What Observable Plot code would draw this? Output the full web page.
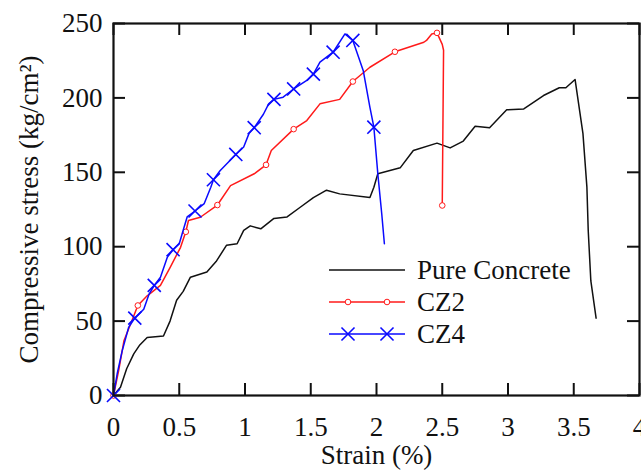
<!DOCTYPE html>
<html><head><meta charset="utf-8">
<script src="https://cdn.jsdelivr.net/npm/d3@7"></script>
<script src="https://cdn.jsdelivr.net/npm/@observablehq/plot@0.6"></script>
<style>
body{margin:0;background:#fff;font-family:"Liberation Serif";}
#wrap{position:relative;width:641px;height:472px;font-family:"Liberation Serif";}
#wrap text{font-family:"Liberation Serif" !important;}
</style>
</head><body><div id="wrap"></div>
<script>
// ---- data ----
const xTicks = [0, 0.5, 1, 1.5, 2, 2.5, 3, 3.5, 4];
const xTickLabels = ["0", "0.5", "1", "1.5", "2", "2.5", "3", "3.5", "4"];
const yTicks = [0, 50, 100, 150, 200, 250];
const yTickLabels = ["0", "50", "100", "150", "200", "250"];
const seriesNames = ["Pure Concrete", "CZ2", "CZ4"];

const pcStrain = [0,0.053,0.10,0.154,0.2,0.256,0.38,0.43,0.48,0.53,0.585,0.71,0.78,0.86,0.94,0.99,1.04,1.12,1.22,1.32,1.42,1.52,1.62,1.72,1.95,1.98,2.01,2.18,2.28,2.46,2.56,2.66,2.75,2.86,2.99,3.12,3.27,3.39,3.44,3.51,3.57,3.60,3.61,3.63,3.67];
const pcStress = [0,5.6,18,28,34,39,40,50,64,70,79.5,83,90,101,102,111,114,112,119,120,126.5,133,138,135.5,133,140,149,153,164.6,169.6,166.4,171,181,180,192,192.6,201.6,206.8,206.8,212.4,176,140,111,77,52];

const cz2Strain = [0,0.04,0.08,0.13,0.185,0.256,0.357,0.43,0.51,0.55,0.57,0.66,0.79,0.89,1.07,1.16,1.2,1.37,1.47,1.57,1.72,1.82,1.95,2.14,2.36,2.38,2.42,2.46,2.50,2.51,2.50];
const cz2Stress = [0,17,37,48,60.5,67,74,86,99.6,110,117.6,119.8,128,141,149,155,164.6,179,184.8,196,199,211,220.6,231,237.4,238.6,243,243.7,236,232,127.7];
const cz2MarkStrain = [0,0.185,0.55,0.79,1.16,1.37,1.82,2.14,2.46,2.50];
const cz2MarkStress = [0,60.5,110,128,155,179,211,231,243.7,127.7];

const cz4Strain = [0,0.028,0.066,0.116,0.162,0.23,0.27,0.31,0.357,0.41,0.453,0.5,0.53,0.56,0.62,0.69,0.74,0.76,0.81,0.93,0.99,1.03,1.07,1.14,1.18,1.22,1.29,1.37,1.47,1.52,1.57,1.67,1.76,1.79,1.82,1.90,1.95,1.98,2.01,2.04,2.06];
const cz4Stress = [0,14.6,30,46,52,58,68,74,79.5,93,98,102,111,120,124,129,140,145,151,162,167,176,180,189,196,199,200.5,206,211.7,216,224,230.7,243,240.8,238.6,218,193.7,180.3,149,122,102];
const cz4MarkStrain = [0,0.162,0.31,0.453,0.62,0.76,0.93,1.07,1.22,1.37,1.52,1.67,1.82,1.98];
const cz4MarkStress = [0,52,74,98,124,145,162,180,199,206,216,230.7,238.6,180.3];

const rows = (xs, ys) => xs.map((x, i) => ({strain: x, stress: ys[i]}));
const pc = rows(pcStrain, pcStress);
const cz2 = rows(cz2Strain, cz2Stress);
const cz2m = rows(cz2MarkStrain, cz2MarkStress);
const cz4 = rows(cz4Strain, cz4Stress);
const cz4m = rows(cz4MarkStrain, cz4MarkStress);

const colors = ["#111111", "#ff1a1a", "#0a0aff"];

const W = 641, H = 472, mL = 113, mR = 2, mT = 23, mB = 77;
const fw = W - mL - mR, fh = H - mT - mB, tk = 12, FS = 27;
const FF = "Liberation Serif";

const chart = Plot.plot({
  width: W, height: H,
  marginLeft: mL, marginRight: mR, marginTop: mT, marginBottom: mB,
  style: `font-family: "Liberation Serif"; font-size: ${FS}px; color: #111;`,
  x: {domain: [0, 4]},
  y: {domain: [0, 250]},
  marks: [
    Plot.axisX(xTicks, {tickSize: 0, tickPadding: 21, label: null, fontSize: FS, fontFamily: FF, fill: "#111",
      tickFormat: d => xTickLabels[xTicks.indexOf(d)]}),
    Plot.axisY(yTicks, {tickSize: 0, tickPadding: 11, label: null, fontSize: FS, fontFamily: FF, fill: "#111",
      tickFormat: d => yTickLabels[yTicks.indexOf(d)]}),
    Plot.tickX(xTicks, {x: d => d, insetTop: fh - tk, stroke: "#111", strokeWidth: 2}),
    Plot.tickX(xTicks, {x: d => d, insetBottom: fh - tk, stroke: "#111", strokeWidth: 2}),
    Plot.tickY(yTicks, {y: d => d, insetRight: fw - tk, stroke: "#111", strokeWidth: 2}),
    Plot.tickY(yTicks, {y: d => d, insetLeft: fw - tk, stroke: "#111", strokeWidth: 2}),
    Plot.line(pc, {x: "strain", y: "stress", stroke: colors[0], strokeWidth: 1.5}),
    Plot.line(cz2, {x: "strain", y: "stress", stroke: colors[1], strokeWidth: 1.5}),
    Plot.dot(cz2m, {x: "strain", y: "stress", r: 2.8, stroke: colors[1], fill: "white", strokeWidth: 1}),
    Plot.line(cz4, {x: "strain", y: "stress", stroke: colors[2], strokeWidth: 1.5}),
    Plot.dot(cz4m, {x: "strain", y: "stress", r: 6, symbol: "times", stroke: colors[2], strokeWidth: 1.6}),
    Plot.frame({stroke: "#111", strokeWidth: 2.2}),
    Plot.text(["Strain (%)"], {frameAnchor: "bottom", dy: 60, textAnchor: "middle", lineAnchor: "middle", fontSize: FS, fontFamily: FF, fill: "#111"}),
    Plot.text(["Compressive stress (kg/cm²)"], {frameAnchor: "left", dx: -84, rotate: -90, textAnchor: "middle", lineAnchor: "middle", fontSize: FS, fontFamily: FF, fill: "#111"})
  ]
});

document.getElementById("wrap").appendChild(chart);

// legend, drawn inside the chart's svg
const markers = [null, "circle", "times"];
const lg = d3.select(chart).append("g").attr("transform", "translate(329,270)");
seriesNames.forEach((name, i) => {
  const row = lg.append("g").attr("transform", `translate(0,${i * 32})`);
  row.append("line").attr("x1", 0).attr("x2", 76).attr("y1", 0).attr("y2", 0)
    .attr("stroke", colors[i]).attr("stroke-width", 1.5);
  [19, 58].forEach(cx => {
    if (markers[i] === "circle") {
      row.append("circle").attr("cx", cx).attr("cy", 0).attr("r", 2.8)
        .attr("fill", "white").attr("stroke", colors[i]).attr("stroke-width", 1);
    } else if (markers[i] === "times") {
      row.append("path").attr("transform", `translate(${cx},0)`)
        .attr("d", d3.symbol(d3.symbolTimes, Math.PI * 36)())
        .attr("fill", "none").attr("stroke", colors[i]).attr("stroke-width", 1.6);
    }
  });
  row.append("text").attr("x", 88).attr("y", 0).attr("dy", "0.32em")
    .attr("text-anchor", "start").attr("font-family", FF).attr("font-size", FS)
    .attr("fill", "#111").text(name);
});

// make sure every text of the chart uses the serif face
function applySerif() {
  d3.select(chart).selectAll("text").each(function () {
    this.setAttribute("font-family", FF);
    this.style.setProperty("font-family", '"Liberation Serif"', "important");
  });
}
applySerif();
setTimeout(applySerif, 0);
if (document.fonts && document.fonts.ready) document.fonts.ready.then(applySerif);
</script>
</body></html>
